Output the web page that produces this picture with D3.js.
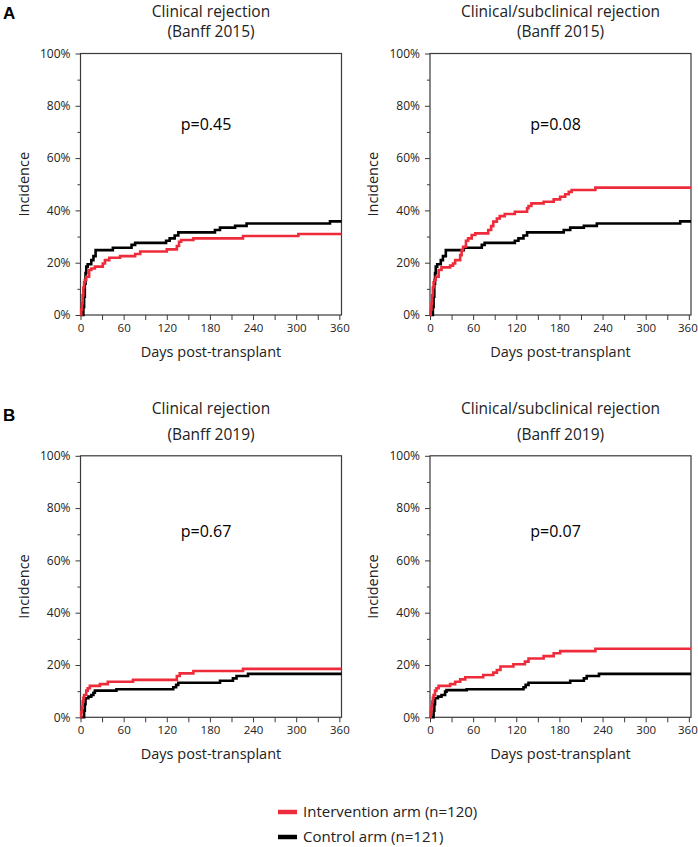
<!DOCTYPE html>
<html>
<head>
<meta charset="utf-8">
<script src="https://cdn.jsdelivr.net/npm/d3@7"></script>
<style>
  html, body { margin: 0; padding: 0; background: #fff; }
  svg { display: block; font-family: "Open Sans", "Noto Sans", sans-serif; }
</style>
</head>
<body>
<svg id="chart" width="698" height="847"></svg>
<script>
// ---------------- DATA ----------------
const xTicks = [0, 60, 120, 180, 240, 300, 360];
const xMinorTicks = [30, 90, 150, 210, 270, 330];
const yTicks = [0, 20, 40, 60, 80, 100];
const yMinorTicks = [10, 30, 50, 70, 90];

const panelTitles = [
  ["Clinical rejection", "(Banff 2015)"],
  ["Clinical/subclinical rejection", "(Banff 2015)"],
  ["Clinical rejection", "(Banff 2019)"],
  ["Clinical/subclinical rejection", "(Banff 2019)"]
];
const pValues = ["p=0.45", "p=0.08", "p=0.67", "p=0.07"];
const seriesNames = ["Intervention arm (n=120)", "Control arm (n=121)"];

// [day, incidence %] step points
const clin2015Intervention = [[0,0],[1,2],[2,4.5],[3,7.5],[4,10.5],[5,12.5],[6,13.4],[8,14.6],[12,17.2],[15,17.8],[20,18.5],[31,19.7],[34,21],[40,21.9],[55,22.5],[76,23.3],[83,24.3],[120,25.1],[134,26.4],[137,28],[140,28.7],[157,29.3],[226,30.2],[303,31],[363,31]];
const clin2015Control = [[0,0],[3,0],[4,3],[5,7],[6,12],[7,16],[8,18.5],[10,19.4],[15,21],[18,22.5],[21,24.8],[45,25.7],[71,26.8],[76,27.6],[119,28.4],[124,29.3],[131,30.4],[136,31.6],[187,32.5],[194,33.4],[215,34.1],[231,35],[347,35.8],[363,35.8]];

const sub2015Intervention = [[0,0],[1,2],[2,4.5],[3,7.5],[4,10.5],[5,12.5],[6,13.4],[8,14.6],[12,17.2],[16,18.2],[28,18.9],[32,19.7],[35,21],[42,22.9],[44,24.8],[46,26.1],[50,28.4],[53,29.3],[58,30.6],[63,31.2],[81,32.5],[85,34],[88,35.7],[93,36.9],[97,37.8],[104,38.6],[118,39.5],[135,40.8],[137,41.7],[141,42.7],[158,43.3],[172,44.2],[181,45.2],[188,46.2],[193,47.1],[197,47.8],[230,48.7],[363,48.7]];
const sub2015Control = [[0,0],[3,0],[4,3],[5,7],[6,12],[7,16],[8,18.5],[10,19.4],[15,21],[18,22.5],[22,24.8],[47,25.7],[72,26.8],[76,27.6],[118,28.4],[123,29.3],[130,30.4],[135,31.6],[186,32.5],[195,33.4],[214,34.1],[232,35],[348,35.8],[363,35.8]];

const clin2019Intervention = [[0,0],[1,2],[2,4],[3,6],[4,7.5],[5,8.5],[8,10.2],[10,11.1],[13,12],[27,12.7],[38,13.6],[73,14.3],[134,15.8],[138,16.8],[157,17.7],[226,18.5],[363,18.5]];
const clin2019Control = [[0,0],[4,0],[5,2.5],[6,5],[7,7.3],[11,7.9],[15,8.5],[18,9.4],[20,10.2],[50,10.7],[129,11.5],[133,12.4],[136,13.2],[194,14],[212,14.9],[217,15.8],[233,16.6],[363,16.6]];

const sub2019Intervention = [[0,0],[1,2],[2,4],[3,6],[4,7.5],[5,8.5],[7,10.2],[9,11.1],[12,12],[28,12.7],[35,13.6],[42,14.5],[49,15.3],[74,16.2],[88,17.1],[93,18.1],[98,19.4],[116,20.3],[132,21.3],[137,22.5],[158,23.4],[172,24.5],[181,25.3],[230,26.2],[363,26.2]];
const sub2019Control = [[0,0],[4,0],[5,2.5],[6,5],[7,7.3],[11,7.9],[16,8.5],[21,9.8],[23,10.4],[51,10.7],[130,11.5],[133,12.4],[137,13.2],[195,14],[214,14.9],[218,15.8],[235,16.6],[363,16.6]];

const panelSeries = [
  [clin2015Intervention, clin2015Control],
  [sub2015Intervention, sub2015Control],
  [clin2019Intervention, clin2019Control],
  [sub2019Intervention, sub2019Control]
];
const seriesColors = ["#ee2b3b", "#000000"];

// ---------------- LAYOUT ----------------
const svg = d3.select("#chart");
const panels = [
  {x0: 80.5, x1: 341.5, y0: 315, y1: 53.5, t1: 16.5, t2: 37, pY: 129.5},
  {x0: 430, x1: 691, y0: 315, y1: 53.5, t1: 16.5, t2: 37, pY: 129.5},
  {x0: 80.5, x1: 341.5, y0: 717.3, y1: 455.8, t1: 413.5, t2: 440, pY: 537},
  {x0: 430, x1: 691, y0: 717.3, y1: 455.8, t1: 413.5, t2: 440, pY: 537}
];

const axisColor = "#3a3a3a";
const textColor = "#222";

panels.forEach((p, i) => {
  const x = d3.scaleLinear().domain([0, 363]).range([p.x0, p.x1]);
  const y = d3.scaleLinear().domain([0, 100]).range([p.y0, p.y1]);
  const g = svg.append("g");

  // frame
  g.append("rect")
    .attr("x", p.x0).attr("y", p.y1)
    .attr("width", p.x1 - p.x0).attr("height", p.y0 - p.y1)
    .attr("fill", "none").attr("stroke", axisColor).attr("stroke-width", 1.2);

  // x axis
  const xa = g.append("g").attr("transform", `translate(0,${p.y0})`)
    .call(d3.axisBottom(x).tickValues(xTicks).tickSize(5).tickPadding(4));
  xa.select(".domain").remove();
  xa.selectAll("line").attr("stroke", axisColor);
  xa.selectAll("text").attr("font-size", 11.5).attr("fill", textColor)
    .attr("font-family", '"Open Sans", sans-serif');
  if (i % 2 === 1) {
    xa.selectAll("text").filter(d => d === 360).attr("dx", -1.5);
  }
  g.append("g").attr("transform", `translate(0,${p.y0})`)
    .call(d3.axisBottom(x).tickValues(xMinorTicks).tickSize(5).tickFormat(""))
    .call(s => s.select(".domain").remove())
    .selectAll("line").attr("stroke", axisColor);

  // y axis
  const ya = g.append("g").attr("transform", `translate(${p.x0},0)`)
    .call(d3.axisLeft(y).tickValues(yTicks).tickSize(5).tickPadding(5).tickFormat(d => d + "%"));
  ya.select(".domain").remove();
  ya.selectAll("line").attr("stroke", axisColor);
  ya.selectAll("text").attr("font-size", 12).attr("fill", textColor)
    .attr("font-family", '"Open Sans", sans-serif');
  g.append("g").attr("transform", `translate(${p.x0},0)`)
    .call(d3.axisLeft(y).tickValues(yMinorTicks).tickSize(3).tickFormat(""))
    .call(s => s.select(".domain").remove())
    .selectAll("line").attr("stroke", axisColor);

  // curves (control drawn first, intervention on top)
  const line = d3.line().x(d => x(d[0])).y(d => y(d[1])).curve(d3.curveStepAfter);
  [1, 0].forEach(k => {
    g.append("path").datum(panelSeries[i][k])
      .attr("d", line)
      .attr("fill", "none")
      .attr("stroke", seriesColors[k])
      .attr("stroke-width", 2.6)
      .attr("stroke-linejoin", "miter");
  });

  const cx = (p.x0 + p.x1) / 2;
  // titles
  g.append("text").attr("x", cx).attr("y", p.t1).attr("text-anchor", "middle")
    .attr("font-size", 15.5).attr("fill", textColor).text(panelTitles[i][0]);
  g.append("text").attr("x", cx).attr("y", p.t2).attr("text-anchor", "middle")
    .attr("font-size", 15.5).attr("fill", textColor).text(panelTitles[i][1]);

  // p-value
  g.append("text").attr("x", cx - 5).attr("y", p.pY).attr("text-anchor", "middle")
    .attr("font-size", 16).attr("fill", "#000").text(pValues[i]);

  // axis titles
  g.append("text").attr("x", cx).attr("y", p.y0 + 42).attr("text-anchor", "middle")
    .attr("font-size", 14.5).attr("fill", textColor).text("Days post-transplant");
  g.append("text")
    .attr("transform", `translate(${p.x0 - 52},${(p.y0 + p.y1) / 2}) rotate(-90)`)
    .attr("text-anchor", "middle")
    .attr("font-size", 14.5).attr("fill", textColor).text("Incidence");
});

// panel letters
svg.append("text").attr("x", 3).attr("y", 19).attr("font-family", "Liberation Sans, Arial, sans-serif")
  .attr("font-weight", "bold").attr("font-size", 17).attr("fill", "#000").text("A");
svg.append("text").attr("x", 3).attr("y", 421).attr("font-family", "Liberation Sans, Arial, sans-serif")
  .attr("font-weight", "bold").attr("font-size", 17).attr("fill", "#000").text("B");

// legend
const legend = svg.append("g");
seriesNames.forEach((name, k) => {
  const ly = 812 + k * 25;
  legend.append("line").attr("x1", 278).attr("x2", 297).attr("y1", ly).attr("y2", ly)
    .attr("stroke", seriesColors[k]).attr("stroke-width", 4.5);
  legend.append("text").attr("x", 303).attr("y", ly + 5)
    .attr("font-size", 15).attr("fill", textColor).text(name);
});
</script>
</body>
</html>
